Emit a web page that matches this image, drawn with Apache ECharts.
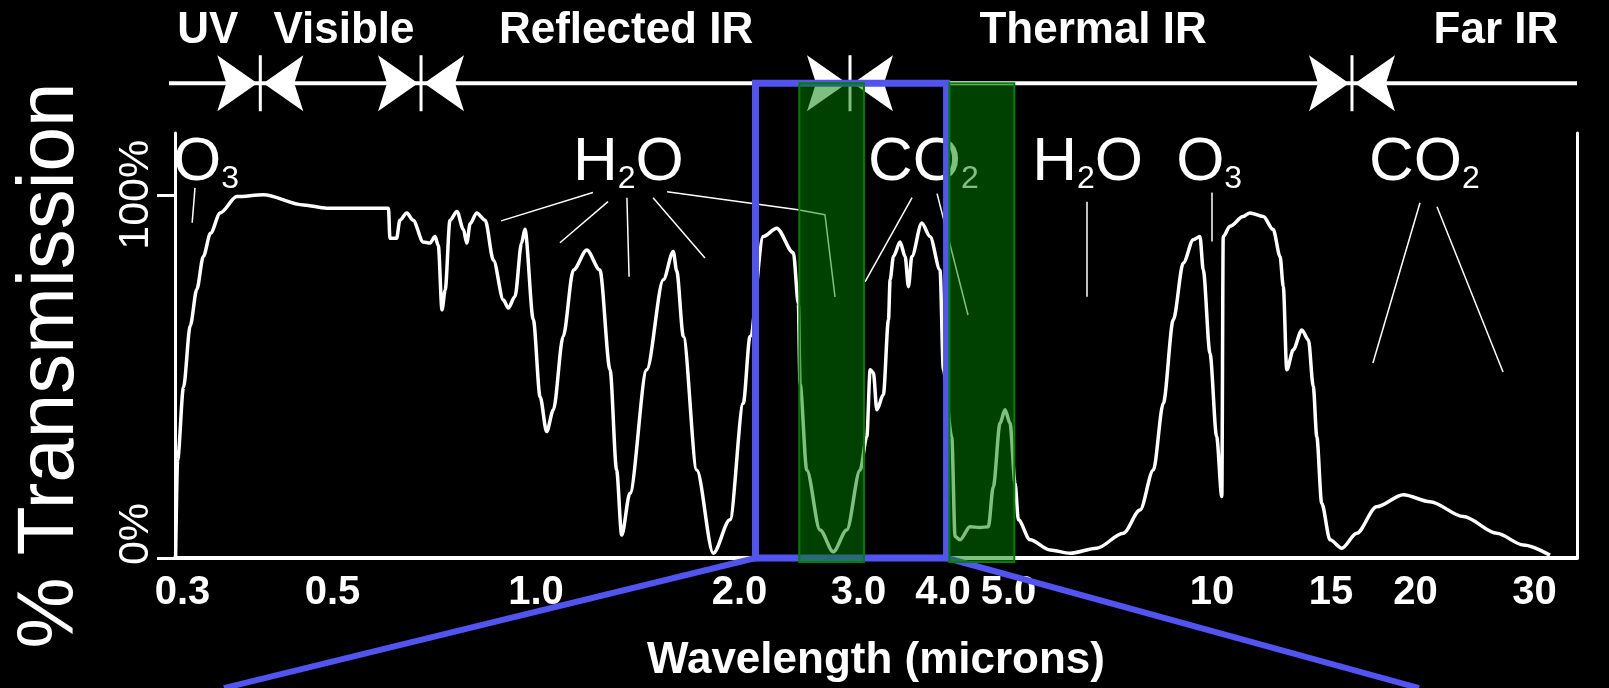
<!DOCTYPE html>
<html>
<head>
<meta charset="utf-8">
<title>Atmospheric transmission</title>
<script src="https://cdn.jsdelivr.net/npm/echarts@6/dist/echarts.min.js"></script>
<style>
  html, body { margin: 0; padding: 0; background: #000; }
  #chart { width: 1609px; height: 688px; }
</style>
</head>
<body>
<div id="chart"></div>
<script>
// wavelength (microns) and % transmission
const wavelength = [
  0.293, 0.295, 0.301, 0.308, 0.315, 0.322, 0.330, 0.341, 0.361, 0.395,
  0.453, 0.490, 0.605, 0.608, 0.622, 0.629, 0.644, 0.658, 0.681, 0.697,
  0.709, 0.717, 0.726, 0.734, 0.746, 0.764, 0.781, 0.790, 0.799, 0.817,
  0.841, 0.865, 0.895, 0.910, 0.931, 0.952, 0.963, 0.991, 1.014, 1.037,
  1.061, 1.097, 1.136, 1.189, 1.243, 1.287, 1.316, 1.339, 1.377, 1.458,
  1.543, 1.596, 1.615, 1.652, 1.729, 1.829, 1.936, 2.026, 2.073, 2.169,
  2.270, 2.403, 2.444, 2.458, 2.515, 2.631, 2.753, 2.882, 3.016, 3.086,
  3.121, 3.156, 3.193, 3.265, 3.322, 3.341, 3.379, 3.456, 3.516, 3.556,
  3.597, 3.721, 3.827, 3.960, 4.005, 4.121, 4.168, 4.239, 4.385, 4.537,
  4.668, 4.748, 4.858, 4.941, 5.026, 5.113, 5.171, 5.381, 5.760, 6.166,
  6.752, 7.392, 7.826, 8.189, 8.472, 8.766, 9.068, 9.382, 9.598, 9.707,
  9.931, 10.16, 10.34, 10.39, 10.63, 11.12, 11.38, 11.91, 12.32, 12.61,
  12.75, 12.90, 13.19, 13.58, 13.89, 14.12, 14.29, 14.53, 14.95, 15.56,
  16.37, 17.52, 19.19, 21.02, 23.54, 26.38, 28.87, 31.62
];
const transmission = [
  0, 27, 47, 64, 74, 83, 89.4, 95, 99.5, 100,
  97.2, 96.3, 96.3, 88, 88, 93, 95, 93, 87, 86.7,
  88.5, 86, 68.3, 73.8, 93, 95.4, 90.4, 86.7, 92, 95,
  93, 82, 71, 68.8, 72, 86.7, 90.5, 65.6, 44.4, 34.8,
  40.8, 61, 79.3, 84.8, 79.3, 51.8, 24.2, 6.3, 17.8, 51.8,
  76.6, 84.4, 79, 61, 24.2, 1.3, 10.5, 42.6, 61, 88.5,
  90.8, 84, 70, 48, 24.2, 7.7, 1.7, 7.7, 24.2, 33.4,
  51.8, 51, 40.8, 45, 65.6, 76.6, 83, 87, 83, 74.7,
  83, 92.2, 88.5, 79.3, 51.8, 33.4, 5.9, 5, 8.6, 8.4,
  8.6, 19.6, 37.1, 40.8, 37.1, 20.6, 10.5, 5, 2.2, 1.3,
  2.7, 6.8, 13.2, 24.2, 42.6, 65.6, 81.2, 87.6, 88.5, 79.3,
  56.4, 33.4, 16.9, 88.5, 91.3, 94, 95, 94, 90.4, 83,
  74.7, 51.8, 57.3, 62.8, 60, 47.2, 33.4, 15.1, 5, 2.7,
  6.8, 14.1, 17.4, 15.5, 11.4, 6.8, 3.6, 0.8
];

const tickValues = [0.3, 0.5, 1, 2, 3, 4, 5, 10, 15, 20, 30];
const tickLabels = ['0.3', '0.5', '1.0', '2.0', '3.0', '4.0', '5.0', '10', '15', '20', '30'];

// spectral regions along the top
const bandNames = ['UV', 'Visible', 'Reflected IR', 'Thermal IR', 'Far IR'];
const bandCenters = [0.327, 0.520, 1.359, 6.67, 26.3];
const bandEdges = [0.391, 0.676, 2.914, 16.11];

// absorbing gases: label text, left edge (microns), leader lines [microns, %]
const gasNames = ['O3', 'H2O', 'CO2', 'H2O', 'O3', 'CO2'];
const gasAt = [0.2904, 1.134, 3.098, 5.42, 8.85, 17.07];
const gasLeaders = [
  [[0.313, 101.9], [0.310, 92.3]],
  [[1.214, 100.6], [0.888, 92.8]],
  [[1.278, 98.1], [1.085, 86.8]],
  [[1.363, 99.2], [1.373, 77.4]],
  [[1.490, 99.2], [1.778, 82.6]],
  [[1.563, 100.8], [2.441, 95.9], [2.676, 94.5], [2.769, 71.9]],
  [[3.600, 99.2], [3.067, 76.0]],
  [[3.920, 100.3], [4.356, 66.9]],
  [[6.533, 98.1], [6.533, 71.9]],
  [[10.0, 100.6], [10.0, 87.1]],
  [[20.31, 97.8], [17.30, 53.7]],
  [[21.52, 96.7], [26.95, 51.2]]
];

// highlighted windows and zoom box (microns)
const greenWindows = [[2.452, 3.056], [4.088, 5.100]];
const zoomBox = [2.112, 4.049];
const zoomTargets = [[0.3455, -35.8], [20.24, -35.8]];

const xMin = 0.2924, xMax = 34.67;
const TOP = 130.7;        // level of the region line, in % units above the axis
const BAND_TEXT = 145;    // level of the region names
const GAS_TEXT = 100;     // bottom of the gas labels
const bandLineStart = 0.2865;

const font = "'Liberation Sans', Arial, sans-serif";
const blue = '#5254f2';

const chart = echarts.init(document.getElementById('chart'));

chart.setOption({
  backgroundColor: '#000',
  animation: false,
  grid: { left: 175, right: 32, top: 133, bottom: 130 },
  xAxis: [{
    type: 'log',
    logBase: 10,
    min: xMin,
    max: xMax,
    axisLine: { lineStyle: { color: '#fff', width: 4 } },
    axisTick: { show: false },
    splitLine: { show: false },
    axisLabel: {
      customValues: tickValues,
      color: '#fff',
      fontSize: 40,
      fontWeight: 'bold',
      fontFamily: font,
      margin: 15,
      formatter: v => {
        const i = tickValues.findIndex(t => Math.abs(t - v) / t < 0.01);
        return i < 0 ? '' : tickLabels[i];
      }
    },
    name: 'Wavelength (microns)',
    nameLocation: 'middle',
    nameGap: 81,
    nameTextStyle: { color: '#fff', fontSize: 44, fontWeight: 'bold', fontFamily: font }
  }],
  yAxis: [{
    type: 'value',
    min: 0,
    max: 117,
    axisLine: { show: true, lineStyle: { color: '#fff', width: 3 } },
    axisTick: { show: true, customValues: [0, 100], length: 18, lineStyle: { color: '#fff', width: 3 } },
    splitLine: { show: false },
    axisLabel: {
      customValues: [0, 100],
      rotate: 90,
      margin: 17,
      color: '#fff',
      fontSize: 43,
      fontFamily: font,
      formatter: v => (v === 0 ? '{z|0%}' : '100%'),
      rich: { z: { padding: [0, 0, 0, 48], fontSize: 43, color: '#fff', fontFamily: font } }
    },
    name: '% Transmission',
    nameLocation: 'middle',
    nameGap: 84,
    nameTextStyle: { color: '#fff', fontSize: 80, fontFamily: font, padding: [0, 40, 0, 0] }
  }, {
    type: 'value',
    min: 0,
    max: 117,
    position: 'right',
    axisLine: { show: true, lineStyle: { color: '#fff', width: 3 } },
    axisTick: { show: false },
    axisLabel: { show: false },
    splitLine: { show: false }
  }],
  series: [{
    type: 'line',
    name: 'Transmission',
    data: wavelength.map((w, i) => [w, transmission[i]]),
    showSymbol: false,
    smooth: 0.3,
    smoothMonotone: 'x',
    lineStyle: { color: '#fff', width: 3.5 },
    z: 3,
    silent: true
  }].concat(gasLeaders.map(pts => ({
    type: 'line',
    data: pts,
    showSymbol: false,
    lineStyle: { color: '#fff', width: 1.5 },
    z: 2,
    silent: true
  })))
});

const toPx = (w, v) => chart.convertToPixel({ xAxisIndex: 0, yAxisIndex: 0 }, [w, v]);

const graphics = [];

// region line across the top, with bow-tie markers at the boundaries
const lineA = toPx(bandLineStart, TOP);
const lineB = toPx(xMax, TOP);
graphics.push({
  type: 'line', z: 20,
  shape: { x1: lineA[0], y1: lineA[1], x2: lineB[0], y2: lineB[1] },
  style: { stroke: '#fff', lineWidth: 4 }
});
bandEdges.forEach(w => {
  const [c, y] = toPx(w, TOP);
  graphics.push({
    type: 'polygon', z: 21,
    shape: { points: [[c - 43, y - 28], [c - 3, y], [c - 43, y + 28], [c - 34, y]] },
    style: { fill: '#fff' }
  });
  graphics.push({
    type: 'polygon', z: 21,
    shape: { points: [[c + 43, y - 28], [c + 3, y], [c + 43, y + 28], [c + 34, y]] },
    style: { fill: '#fff' }
  });
  graphics.push({
    type: 'line', z: 21,
    shape: { x1: c, y1: y - 28, x2: c, y2: y + 28 },
    style: { stroke: '#fff', lineWidth: 3 }
  });
});
bandNames.forEach((name, i) => {
  const [x, y] = toPx(bandCenters[i], BAND_TEXT);
  graphics.push({
    type: 'text', x, y, z: 20,
    style: {
      text: name, fill: '#fff', fontSize: 44, fontWeight: 'bold', fontFamily: font,
      align: 'center', verticalAlign: 'middle'
    }
  });
});

// gas labels with subscripts
gasNames.forEach((name, i) => {
  const [x, y] = toPx(gasAt[i], GAS_TEXT);
  const rich = name.replace(/(\d)/g, '}{s|$1}{m|');
  const text = ('{m|' + rich + '}').replace(/\{m\|\}/g, '');
  graphics.push({
    type: 'text', x, y, z: 30,
    style: {
      text,
      align: 'left',
      verticalAlign: 'bottom',
      rich: {
        m: { fontSize: 62, fontFamily: font, fill: '#fff', lineHeight: 64 },
        s: { fontSize: 32, fontFamily: font, fill: '#fff', lineHeight: 27, verticalAlign: 'bottom' }
      }
    }
  });
});

// blue zoom box and its connectors
const boxTL = toPx(zoomBox[0], TOP);
const boxBR = toPx(zoomBox[1], 0);
graphics.push({
  type: 'rect', z: 90,
  shape: { x: boxTL[0], y: boxTL[1], width: boxBR[0] - boxTL[0], height: boxBR[1] - boxTL[1] },
  style: { fill: 'none', stroke: blue, lineWidth: 7 }
});
[[zoomBox[0], zoomTargets[0]], [zoomBox[1], zoomTargets[1]]].forEach(([w, t]) => {
  const a = toPx(w, 0);
  const b = toPx(t[0], t[1]);
  graphics.push({
    type: 'line', z: 90,
    shape: { x1: a[0], y1: a[1], x2: b[0], y2: b[1] },
    style: { stroke: blue, lineWidth: 6 }
  });
});

// green atmospheric windows
greenWindows.forEach(([w0, w1]) => {
  const a = toPx(w0, TOP);
  const b = toPx(w1, -1.1);
  graphics.push({
    type: 'rect', z: 100,
    shape: { x: a[0], y: a[1], width: b[0] - a[0], height: b[1] - a[1] },
    style: { fill: 'rgba(0,128,0,0.5)', stroke: '#008000', lineWidth: 2 }
  });
});

chart.setOption({ graphic: graphics });
</script>
</body>
</html>
